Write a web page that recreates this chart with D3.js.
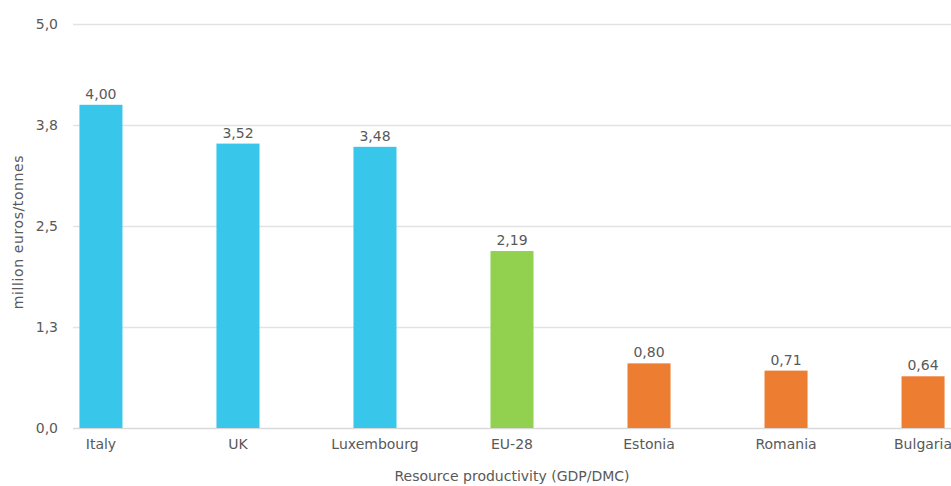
<!DOCTYPE html>
<html>
<head>
<meta charset="utf-8">
<script src="https://cdn.jsdelivr.net/npm/d3@7"></script>
<style>
  body { margin: 0; background: #fff; }
  text { font-family: "DejaVu Sans", sans-serif; fill: #595959; }
</style>
</head>
<body>
<svg id="chart"></svg>
<script>
// Chart data
const countries = ["Italy", "UK", "Luxembourg", "EU-28", "Estonia", "Romania", "Bulgaria"];
const productivity = [4.00, 3.52, 3.48, 2.19, 0.80, 0.71, 0.64];
const groups = ["top", "top", "top", "eu", "low", "low", "low"];
const tickValues = [0, 1.25, 2.5, 3.75, 5];
const tickLabels = ["0,0", "1,3", "2,5", "3,8", "5,0"];

const width = 951, height = 486;
const margin = { top: 24, right: 0, bottom: 58, left: 73 };

const svg = d3.select("#chart").attr("width", width).attr("height", height);

const x = d3.scaleBand()
  .domain(countries)
  .range([margin.left, width - margin.right])
  .paddingInner(0.686)
  .paddingOuter(0.047);

const y = d3.scaleLinear().domain([0, 5]).range([height - margin.bottom, margin.top]);

const colour = d3.scaleOrdinal()
  .domain(["top", "eu", "low"])
  .range(["#38c7ea", "#92d050", "#ed7d31"]);

// Gridlines
svg.append("g")
  .selectAll("line")
  .data(tickValues)
  .join("line")
  .attr("x1", margin.left)
  .attr("x2", width - margin.right)
  .attr("y1", (d) => y(d) + 0.5)
  .attr("y2", (d) => y(d) + 0.5)
  .attr("stroke", (d) => (d === 0 ? "#d9d9d9" : "#e3e3e3"))
  .attr("stroke-width", 1.5);

// Y axis labels
const yAxis = svg.append("g")
  .attr("transform", `translate(${margin.left},0)`)
  .call(d3.axisLeft(y).tickValues(tickValues).tickSize(0).tickPadding(15)
    .tickFormat((d, i) => tickLabels[i]));
yAxis.select(".domain").remove();
yAxis.selectAll("text").style("font-size", "14px").attr("fill", "#595959");

// X axis labels
const xAxis = svg.append("g")
  .attr("transform", `translate(0,${y(0)})`)
  .call(d3.axisBottom(x).tickSize(0).tickPadding(11));
xAxis.select(".domain").remove();
xAxis.selectAll("text").style("font-size", "14px").attr("fill", "#595959");

const data = countries.map((c, i) => ({ country: c, value: productivity[i], group: groups[i] }));

// Bars
svg.append("g")
  .selectAll("rect")
  .data(data)
  .join("rect")
  .attr("x", (d) => x(d.country))
  .attr("y", (d) => y(d.value))
  .attr("width", x.bandwidth())
  .attr("height", (d) => y(0) - y(d.value))
  .attr("fill", (d) => colour(d.group));

// Value labels
svg.append("g")
  .selectAll("text")
  .data(data)
  .join("text")
  .attr("x", (d) => x(d.country) + x.bandwidth() / 2)
  .attr("y", (d) => y(d.value) - 6)
  .attr("text-anchor", "middle")
  .style("font-size", "14px")
  .text((d) => d.value.toFixed(2).replace(".", ","));

// Axis titles
svg.append("text")
  .attr("transform", "translate(23,232) rotate(-90)")
  .attr("text-anchor", "middle")
  .style("font-size", "14px")
  .style("letter-spacing", "0.6px")
  .text("million euros/tonnes");

svg.append("text")
  .attr("x", 512)
  .attr("y", 481)
  .attr("text-anchor", "middle")
  .style("font-size", "14px")
  .text("Resource productivity (GDP/DMC)");
</script>
</body>
</html>
